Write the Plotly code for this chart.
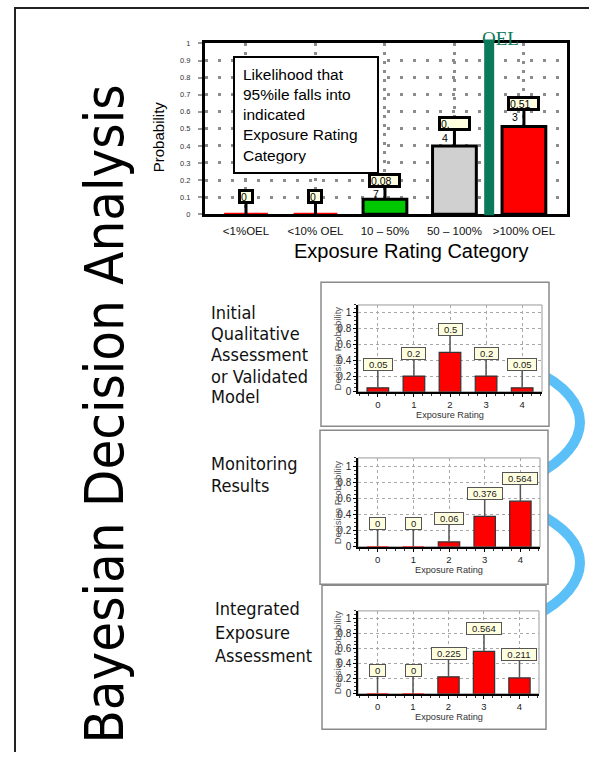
import plotly.graph_objects as go

# ---------------- data ----------------
rating_categories = ["<1%OEL", "<10% OEL", "10 – 50%", "50 – 100%", ">100% OEL"]
likelihood_95 = [0.0, 0.0, 0.087, 0.4, 0.513]
oel_boundary = 3.5  # OEL lies between the 50–100% and >100% categories

exposure_ratings = [0, 1, 2, 3, 4]
prior_probability = [0.05, 0.2, 0.5, 0.2, 0.05]
monitoring_probability = [0, 0, 0.06, 0.376, 0.564]
integrated_probability = [0, 0, 0.225, 0.564, 0.211]

stage_labels = [
    ["Initial", "Qualitative", "Assessment", "or Validated", "Model"],
    ["Monitoring", "Results"],
    ["Integrated", "Exposure", "Assessment"],
]
page_title = "Bayesian Decision Analysis"
box_note = ["Likelihood that", "95%ile falls into", "indicated", "Exposure Rating", "Category"]

# ---------------- styling helpers ----------------
W, H = 589, 758


def fx(x):
    return x / W


def fy(y):
    return 1 - y / H


def paper_text(x, y, text, size, family, color="#000", xanchor="center", **extra):
    """Text placed in page pixels, anchored explicitly."""
    return dict(x=fx(x), y=fy(y), xref="paper", yref="paper", text=text, showarrow=False,
                xanchor=xanchor, yanchor="middle",
                font=dict(family=family, size=size, color=color), **extra)


SANS = "Liberation Sans, Arial, sans-serif"
HUMANIST = "DejaVu Sans Condensed, DejaVu Sans, sans-serif"
category_fill = ["#FF0000", "#FF0000", "#00C800", "#D0D0D0", "#FF0000"]
OEL_GREEN = "#0B7A5A"
BLUE = "#5BC0F8"
NOTE_FILL = "#FFFFE0"

fig = go.Figure()
annotations = []
shapes = []

# ---------------- top chart: likelihood per exposure category ----------------
fig.add_trace(go.Bar(
    x=list(range(len(rating_categories))), y=likelihood_95, width=0.63,
    marker=dict(color=category_fill,
                line=dict(color=[c if v == 0 else "#000000"
                                 for c, v in zip(category_fill, likelihood_95)], width=3)),
    xaxis="x", yaxis="y", hoverinfo="skip"))

for i, v in enumerate(likelihood_95):
    s = f"{v:g}"
    head, tail = (s, "") if len(s) == 1 else (s[:-1], s[-1])
    lift = 18 + 10 * v
    annotations.append(dict(
        x=i, y=v, xref="x", yref="y", text=head, showarrow=True, arrowhead=0,
        arrowwidth=3, arrowcolor="#000", ax=0, ay=-lift,
        bgcolor=NOTE_FILL, bordercolor="#000", borderwidth=3, borderpad=0,
        width=10 if not tail else 27, height=9, align="left",
        font=dict(family=SANS, size=10.5, color="#000")))
    if tail:
        annotations.append(dict(
            x=i, y=v, xref="x", yref="y", text=tail, showarrow=False,
            xanchor="center", yanchor="middle", xshift=-9, yshift=lift - 14,
            font=dict(family=SANS, size=10.5, color="#000")))

# OEL marker
shapes.append(dict(type="line", xref="x", yref="paper", x0=oel_boundary, x1=oel_boundary,
                   y0=fy(214), y1=fy(36), line=dict(color=OEL_GREEN, width=10), layer="above"))
annotations.append(dict(x=oel_boundary, y=fy(35), xref="x", yref="paper", text="OEL",
                        showarrow=False, xshift=11, xanchor="center", yanchor="middle",
                        font=dict(family="Liberation Serif, Times New Roman, serif", size=19,
                                  color=OEL_GREEN)))

annotations.append(paper_text(306, 112.5, "<br>".join(box_note), 15.5, SANS,
                              align="left", width=126, bgcolor="white", bordercolor="#000",
                              borderwidth=2, borderpad=8))
annotations.append(paper_text(158, 135, "Probability", 15, SANS, textangle=-90))
annotations.append(paper_text(411, 250, "Exposure Rating Category", 20, SANS))

top_x = dict(domain=[fx(205), fx(567)], anchor="y", range=[-0.59, 4.62],
             tickvals=list(range(len(rating_categories))), ticktext=rating_categories,
             showgrid=True, gridcolor="#8c8c8c", gridwidth=2.5, griddash="3px,6px",
             showline=True, linecolor="#000", linewidth=3, mirror=True,
             ticks="", ticklabelstandoff=4,
             tickfont=dict(family=SANS, size=11.5, color="#111"), zeroline=False, fixedrange=True)
top_y = dict(domain=[fy(213), fy(40)], anchor="x", range=[0, 1], dtick=0.1,
             showgrid=True, gridcolor="#8c8c8c", gridwidth=2.5, griddash="3px,10px",
             showline=True, linecolor="#000", linewidth=3, mirror=True,
             ticks="outside", ticklen=4, tickwidth=2, tickcolor="#9a9a9a", ticklabelstandoff=6,
             tickfont=dict(family=SANS, size=7.5, color="#333"), zeroline=False, fixedrange=True)

# ---------------- connecting arrows (drawn under the panels) ----------------
for (y0, y1) in [(372, 478), (515, 620)]:
    ym0 = y0 + (y1 - y0) * 0.27
    ym1 = y0 + (y1 - y0) * 0.70
    shapes.append(dict(
        type="path", xref="paper", yref="paper", layer="below",
        path=(f"M {fx(535)},{fy(y0)} C {fx(595)},{fy(ym0)} "
              f"{fx(595)},{fy(ym1)} {fx(535)},{fy(y1)}"),
        line=dict(color=BLUE, width=10)))

# ---------------- three small decision-probability panels ----------------
panels = [
    dict(values=prior_probability, frame=(321, 282, 549, 428),
         plot=(358, 542, 305, 393), labels=stage_labels[0], label_x=209,
         label_y=[313, 334, 355, 377, 398]),
    dict(values=monitoring_probability, frame=(320, 432, 548, 588),
         plot=(358, 540, 460, 550), labels=stage_labels[1], label_x=209,
         label_y=[466, 488]),
    dict(values=integrated_probability, frame=(322, 589, 546, 735),
         plot=(358, 539, 615, 699), labels=stage_labels[2], label_x=213,
         label_y=[613, 637, 660]),
]

axes = {"xaxis": top_x, "yaxis": top_y}
for k, p in enumerate(panels, start=2):
    xa, ya = f"x{k}", f"y{k}"
    left, right, top, bottom = p["plot"]
    fl, ft, fr, fb = p["frame"]
    shapes.append(dict(type="rect", xref="paper", yref="paper", layer="below",
                       x0=fx(fl), x1=fx(fr), y0=fy(fb), y1=fy(ft),
                       fillcolor="white", line=dict(color="#8a8a8a", width=1.5)))
    shapes.append(dict(type="rect", xref=f"{xa} domain", yref=f"{ya} domain", layer="below",
                       x0=0, x1=1, y0=0, y1=1, line=dict(color="#9a9a9a", width=1)))

    vals = p["values"]
    fig.add_trace(go.Bar(
        x=exposure_ratings, y=vals, width=0.6, xaxis=xa, yaxis=ya, hoverinfo="skip",
        marker=dict(color="#FF0000",
                    line=dict(color=["#FF0000" if v == 0 else "#333333" for v in vals],
                              width=1.2))))
    for r, v in zip(exposure_ratings, vals):
        s = f"{v:g}"
        tw = 9.5 * sum(0.278 if ch == "." else 0.556 for ch in s)
        annotations.append(dict(
            x=r, y=v, xref=xa, yref=ya, text=s, showarrow=True, arrowhead=0,
            arrowwidth=1.5, arrowcolor="#555", ax=0, ay=-23,
            bgcolor=NOTE_FILL, bordercolor="#555", borderwidth=1, borderpad=1,
            width=tw + 8, height=9, font=dict(family=SANS, size=9.5, color="#222")))

    annotations.append(paper_text(337, (top + bottom) / 2, "Decision Probability", 9.5, SANS,
                                  color="#555", textangle=-90))
    annotations.append(paper_text((left + right) / 2, bottom + 24, "Exposure Rating", 9.2,
                                  SANS, color="#333"))
    for line, yy in zip(p["labels"], p["label_y"]):
        annotations.append(paper_text(p["label_x"], yy, line, 18, HUMANIST, color="#111",
                                      xanchor="left"))

    axes[f"xaxis{k}"] = dict(
        domain=[fx(left), fx(right)], anchor=ya, range=[-0.55, 4.55],
        tickvals=exposure_ratings, showgrid=True, gridcolor="#a8a8a8", gridwidth=1,
        griddash="3px,3px", showline=True, linecolor="#000", linewidth=2,
        ticks="outside", ticklen=3, tickcolor="#000",
        minor=dict(dtick=0.25, ticks="outside", ticklen=2, tickcolor="#333", showgrid=False),
        tickfont=dict(family=SANS, size=9.5, color="#222"), zeroline=False, fixedrange=True)
    axes[f"yaxis{k}"] = dict(
        domain=[fy(bottom), fy(top)], anchor=xa, range=[0, 1.1], dtick=0.2,
        showgrid=True, gridcolor="#a8a8a8", gridwidth=1, griddash="3px,3px",
        showline=True, linecolor="#000", linewidth=1.5,
        ticks="outside", ticklen=3, tickcolor="#000",
        minor=dict(dtick=0.05, ticks="outside", ticklen=2, tickcolor="#333", showgrid=False),
        tickfont=dict(family=SANS, size=10, color="#222"), zeroline=False, fixedrange=True)

# ---------------- page title and frame ----------------
annotations.append(paper_text(105, 416, page_title, 54, HUMANIST, textangle=-90))
shapes.append(dict(type="line", xref="paper", yref="paper", x0=fx(14), x1=1,
                   y0=fy(4), y1=fy(4), line=dict(color="#222", width=2), layer="above"))
shapes.append(dict(type="line", xref="paper", yref="paper", x0=fx(15), x1=fx(15),
                   y0=fy(3), y1=0, line=dict(color="#222", width=2), layer="above"))

fig.update_layout(
    width=W, height=H, autosize=False, margin=dict(l=0, r=0, t=0, b=0, pad=0),
    paper_bgcolor="white", plot_bgcolor="rgba(0,0,0,0)", showlegend=False,
    annotations=annotations, shapes=shapes, **axes)

fig.write_html("out.html")
